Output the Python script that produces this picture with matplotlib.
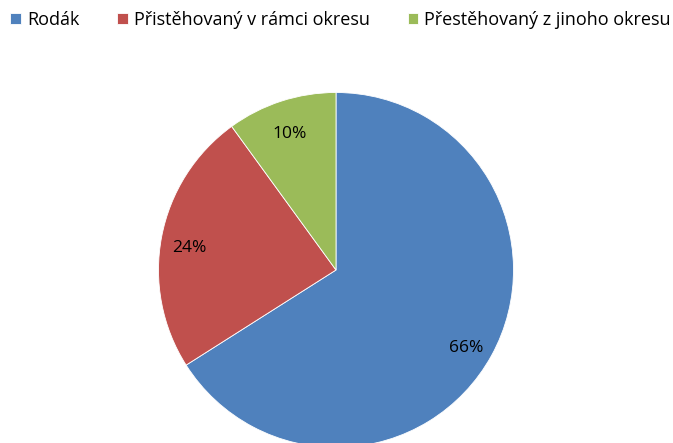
import matplotlib
matplotlib.use("Agg")
import matplotlib.pyplot as plt
import matplotlib.transforms as mtransforms

categories = ["Rodák", "Přistěhovaný v rámci okresu", "Přestěhovaný z jinoho okresu"]
values = [66, 24, 10]
pct_labels = ["66%", "24%", "10%"]
colors = ["#4F81BD", "#C0504D", "#9BBB59"]

plt.rcParams['font.family'] = ['Open Sans', 'DejaVu Sans']

W, H = 673, 443
fig = plt.figure(figsize=(W / 100, H / 100), dpi=100)
cx, cy, r = 336, 270, 177.5
ax = fig.add_axes([(cx - r) / W, (H - cy - r) / H, 2 * r / W, 2 * r / H])
wedges, texts = ax.pie(values, colors=colors, startangle=90, counterclock=False,
                       radius=1.0, labels=pct_labels, labeldistance=0.84,
                       wedgeprops=dict(linewidth=0.6, edgecolor="white"),
                       textprops=dict(fontsize=12.5, color="black"))
shift = mtransforms.ScaledTranslation(0, -6 / 100, fig.dpi_scale_trans)
for t in texts:
    t.set_ha("center")
    t.set_va("center")
    t.set_transform(t.get_transform() + shift)
ax.set_xlim(-1, 1)
ax.set_ylim(-1, 1)
ax.set_aspect("equal")
ax.axis("off")

leg = fig.legend(wedges, categories, ncol=3, loc="center left",
                 bbox_to_anchor=(10 / W, 1 - 20 / H), frameon=False,
                 fontsize=13, handlelength=0.6, handleheight=0.6,
                 handletextpad=0.33, columnspacing=2.1, borderaxespad=0,
                 borderpad=0)
fig.savefig("out.png", dpi=100)
